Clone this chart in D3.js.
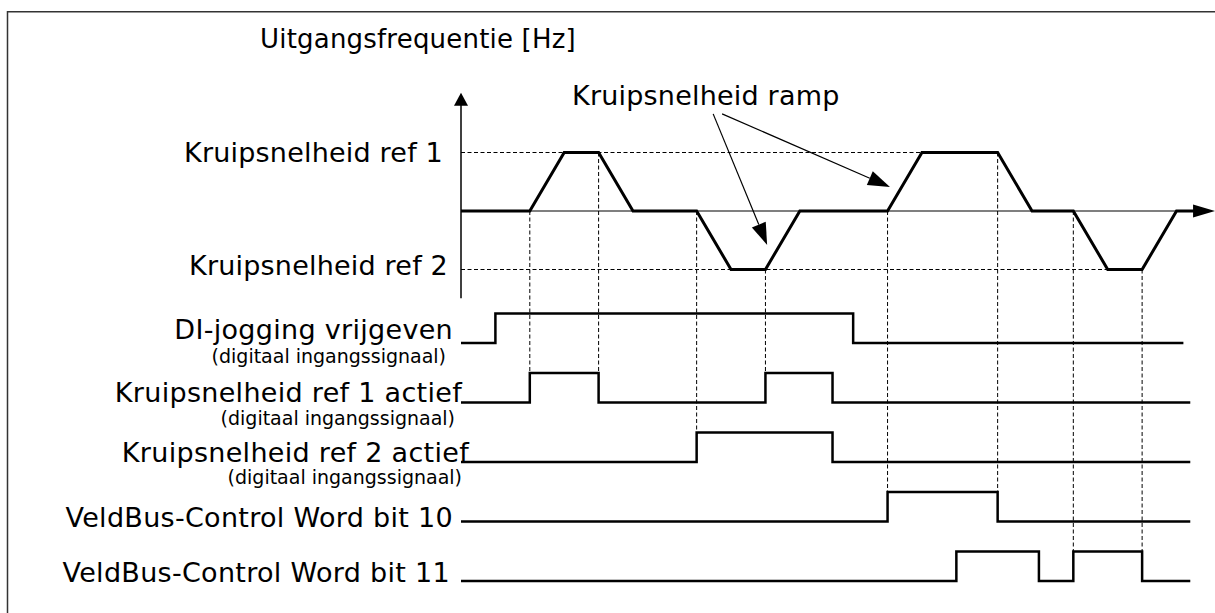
<!DOCTYPE html>
<html>
<head>
<meta charset="utf-8">
<script src="https://cdn.jsdelivr.net/npm/d3@7"></script>
<style>
  body { margin: 0; background: #fff; }
  svg { display: block; font-family: "DejaVu Sans", Verdana, sans-serif; }
</style>
</head>
<body>
<div id="chart"></div>
<script>
// Jogging (kruipsnelheid) timing diagram

// Output frequency trace: time breakpoints and level (1 = ref 1, 0 = zero, -1 = ref 2)
const rampTimes  = [0, 2.0, 3.0, 4.0, 5.0, 6.85, 7.85, 8.85, 9.85, 12.4, 13.4, 15.6, 16.6, 17.8, 18.8, 19.8, 20.8, 21.3];
const rampLevels = [0, 0,   1,   1,   0,   0,    -1,   -1,   0,    0,    1,    1,    0,    0,    -1,   -1,   0,    0];

// Reference levels with their dashed guide end times
const refLabels = ["Kruipsnelheid ref 1", "Kruipsnelheid ref 2"];
const refLevels = [1, -1];
const refGuideEnd = [13.4, 18.8];

// Digital signals: names, sub labels, toggle times (start low) and end time
const signalNames = [
    "DI-jogging vrijgeven",
    "Kruipsnelheid ref 1 actief",
    "Kruipsnelheid ref 2 actief",
    "VeldBus-Control Word bit 10",
    "VeldBus-Control Word bit 11"
];
const signalSubs = ["(digitaal ingangssignaal)", "(digitaal ingangssignaal)", "(digitaal ingangssignaal)", "", ""];
const signalEdges = [
    [1.0, 11.4],
    [2.0, 4.0, 8.85, 10.8],
    [6.85, 10.8],
    [12.4, 15.6],
    [14.4, 16.8, 17.8, 19.8]
];
const signalEnd = [21.0, 21.2, 21.2, 21.2, 21.2];

// Vertical dashed guides: time, trace level at top, signal row at bottom
const guideTimes  = [2.0, 4.0, 6.85, 8.85, 12.4, 15.6, 17.8, 19.8];
const guideLevels = [0,   1,   0,    -1,   0,    1,    0,    -1];
const guideRows   = [1,   1,   2,    1,    3,    3,    4,    4];

const yAxisLabel = "Uitgangsfrequentie [Hz]";
const rampLabel = "Kruipsnelheid ramp";
// annotation arrows: start [t, level] -> end [t, level]
const rampArrowStart = [[7.33, 1.66], [7.59, 1.66]];
const rampArrowEnd   = [[8.9, -0.58], [12.47, 0.41]];

const W = 1215, H = 613;

const svg = d3.select("#chart").append("svg")
    .attr("width", W)
    .attr("height", H);

// frame (only top and left edges visible)
svg.append("path")
    .attr("d", `M7.5,${H + 5} V11.75 H${W + 5}`)
    .attr("fill", "none")
    .attr("stroke", "#333")
    .attr("stroke-width", 1.5);

// scales
const x = d3.scaleLinear().domain([0, 20]).range([461, 461 + 20 * 34.4]);
const y = d3.scaleLinear().domain([-1, 1]).range([269.5, 152.5]);
const row = d3.scalePoint().domain(d3.range(signalNames.length)).range([343, 581]);
const lvl = d3.scaleLinear().domain([0, 1]).range([0, -29.5]);

// dashed reference guides
refLevels.forEach((v, i) => {
    svg.append("line")
        .attr("x1", x(0)).attr("x2", x(refGuideEnd[i]))
        .attr("y1", y(v)).attr("y2", y(v))
        .attr("stroke", "#000")
        .attr("stroke-width", 1)
        .attr("stroke-dasharray", "4,2.5");
});

// vertical dashed guides
guideTimes.forEach((t, i) => {
    svg.append("line")
        .attr("x1", x(t)).attr("x2", x(t))
        .attr("y1", y(guideLevels[i]))
        .attr("y2", row(guideRows[i]) + lvl(1))
        .attr("stroke", "#000")
        .attr("stroke-width", 1)
        .attr("stroke-dasharray", "4,2.5");
});

// axes
const yTop = 2.02, yBottom = -1.49, xTip = 21.92;
svg.append("line")
    .attr("x1", x(0)).attr("x2", x(0))
    .attr("y1", y(yBottom)).attr("y2", y(yTop) + 10)
    .attr("stroke", "#000").attr("stroke-width", 1.5);
svg.append("path")
    .attr("d", `M${x(0)},${y(yTop)} L${x(0) - 7},${y(yTop) + 13} L${x(0) + 7},${y(yTop) + 13} Z`)
    .attr("fill", "#000");

svg.append("line")
    .attr("x1", x(0)).attr("x2", x(xTip) - 18)
    .attr("y1", y(0)).attr("y2", y(0))
    .attr("stroke", "#000").attr("stroke-width", 1.2);
svg.append("path")
    .attr("d", `M${x(xTip)},${y(0)} L${x(xTip) - 22},${y(0) - 6.5} L${x(xTip) - 22},${y(0) + 6.5} Z`)
    .attr("fill", "#000");

// frequency trace
const trace = d3.line()
    .x(d => x(d[0]))
    .y(d => y(d[1]));
svg.append("path")
    .datum(rampTimes.map((t, i) => [t, rampLevels[i]]))
    .attr("d", trace)
    .attr("fill", "none")
    .attr("stroke", "#000")
    .attr("stroke-width", 3)
    .attr("stroke-linejoin", "miter");

// digital signals
const step = d3.line().curve(d3.curveStepAfter);
signalNames.forEach((name, i) => {
    const pts = [[0, 0]];
    let level = 0;
    signalEdges[i].forEach(t => {
        level = 1 - level;
        pts.push([t, level]);
    });
    pts.push([signalEnd[i], level]);
    svg.append("path")
        .attr("d", step.x(d => x(d[0])).y(d => row(i) + lvl(d[1]))(pts))
        .attr("fill", "none")
        .attr("stroke", "#000")
        .attr("stroke-width", 2.5);
});

// text
svg.append("text")
    .attr("x", 260).attr("y", 48)
    .style("font-size", "26px")
    .style("letter-spacing", "0.2px")
    .text(yAxisLabel);

const refLabelX = [443, 448];
const refLabelDy = [9.5, 5];
refLabels.forEach((t, i) => {
    svg.append("text")
        .attr("x", refLabelX[i])
        .attr("y", y(refLevels[i]) + refLabelDy[i])
        .attr("text-anchor", "end")
        .style("font-size", "27px")
        .style("letter-spacing", "0.2px")
        .text(t);
});

const sigLabelX = [453, 462, 469, 453, 450];
const sigLabelDy = [-4, -1, 0, 5, 1];
const subLabelX = [446, 455, 462];
const subLabelDy = [20, 22, 22];
signalNames.forEach((name, i) => {
    svg.append("text")
        .attr("x", sigLabelX[i])
        .attr("y", row(i) + sigLabelDy[i])
        .attr("text-anchor", "end")
        .style("font-size", "27px")
        .style("letter-spacing", "0.3px")
        .text(name);
    if (signalSubs[i]) {
        svg.append("text")
            .attr("x", subLabelX[i])
            .attr("y", row(i) + subLabelDy[i])
            .attr("text-anchor", "end")
            .style("font-size", "19px")
            .text(signalSubs[i]);
    }
});

// ramp annotation
svg.append("text")
    .attr("x", 572).attr("y", 105)
    .style("font-size", "27px")
    .style("letter-spacing", "0.2px")
    .text(rampLabel);

rampArrowStart.forEach((s, i) => {
    const e = rampArrowEnd[i];
    const x1 = x(s[0]), y1 = y(s[1]), x2 = x(e[0]), y2 = y(e[1]);
    const ang = Math.atan2(y2 - y1, x2 - x1);
    const len = 22, half = 7.5;
    const bx = x2 - len * Math.cos(ang), by = y2 - len * Math.sin(ang);
    svg.append("line")
        .attr("x1", x1).attr("y1", y1)
        .attr("x2", bx).attr("y2", by)
        .attr("stroke", "#000").attr("stroke-width", 1.2);
    svg.append("path")
        .attr("d", `M${x2},${y2} L${bx - half * Math.sin(ang)},${by + half * Math.cos(ang)} L${bx + half * Math.sin(ang)},${by - half * Math.cos(ang)} Z`)
        .attr("fill", "#000");
});
</script>
</body>
</html>
